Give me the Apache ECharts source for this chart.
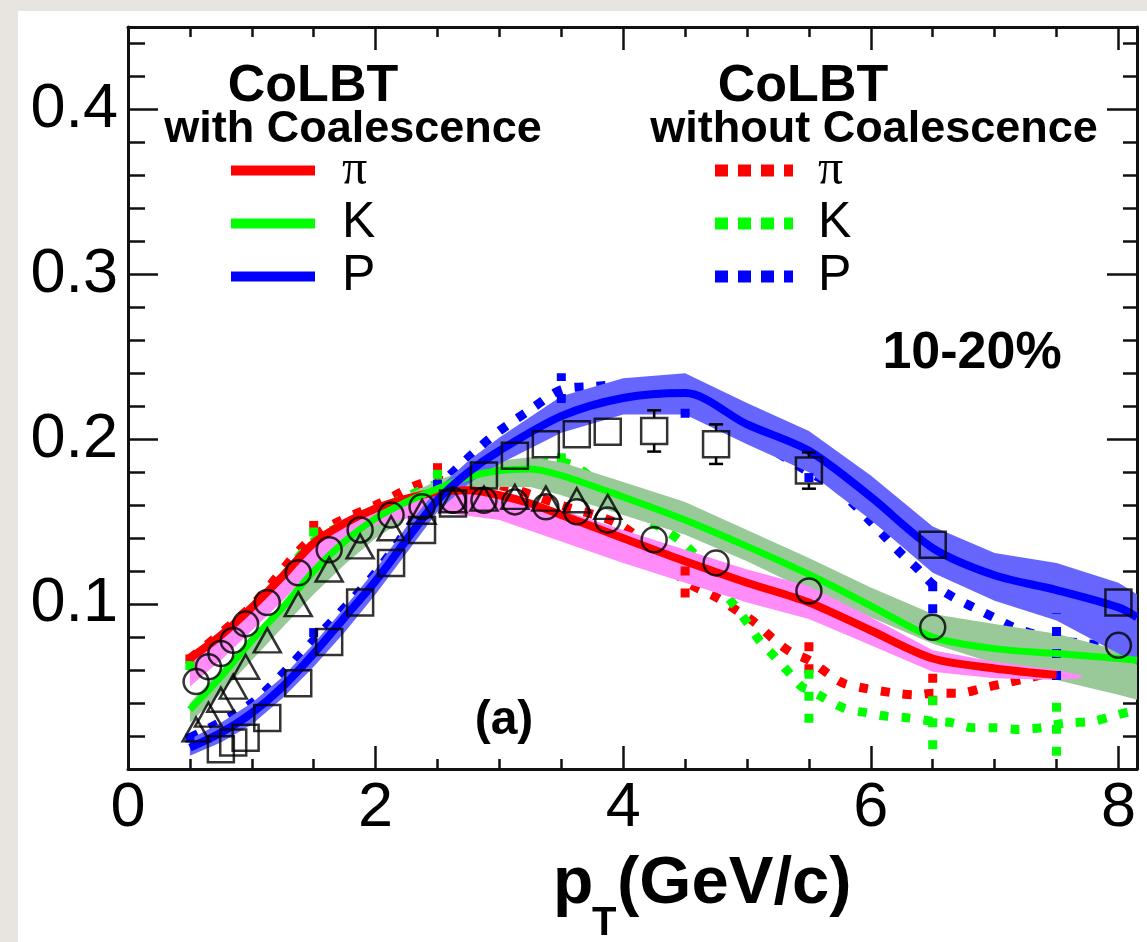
<!DOCTYPE html>
<html><head><meta charset="utf-8">
<script src="https://cdn.jsdelivr.net/npm/echarts/dist/echarts.min.js"></script>
<style>
html,body{margin:0;padding:0;background:#e8e5e1;width:1147px;height:942px;overflow:hidden}
#panel{position:absolute;left:18px;top:11px;width:1129px;height:931px;background:#fff}
#chart{position:absolute;left:0;top:0;width:1147px;height:942px}
</style></head><body><div id="panel"></div><div id="chart"></div>
<script>
// ---------------- data (v2 vs pT) ----------------
// experimental points
const piX = [0.55,0.65,0.75,0.85,0.95,1.125,1.375,1.625,1.875,2.125,2.375,2.625,2.875,3.125,3.375,3.625,3.875,4.25,4.75,5.5,6.5,8.0];
const piY = [0.053,0.062,0.070,0.078,0.088,0.101,0.119,0.133,0.145,0.154,0.159,0.163,0.163,0.162,0.159,0.156,0.151,0.139,0.125,0.108,0.086,0.075];
const kX  = [0.55,0.65,0.75,0.85,0.95,1.125,1.375,1.625,1.875,2.125,2.375,2.625,2.875,3.125,3.375,3.625,3.875];
const kY  = [0.024,0.033,0.042,0.050,0.062,0.078,0.100,0.121,0.135,0.146,0.156,0.163,0.164,0.165,0.164,0.163,0.159];
const pX  = [0.75,0.85,0.95,1.125,1.375,1.625,1.875,2.125,2.375,2.625,2.875,3.125,3.375,3.625,3.875,4.25,4.75,5.5,6.5,8.0];
const pY  = [0.012,0.016,0.019,0.031,0.052,0.077,0.101,0.125,0.145,0.161,0.178,0.190,0.197,0.203,0.2045,0.205,0.197,0.181,0.136,0.101];
const pErrX  = [4.25,4.75,5.5];
const pErrY  = [0.205,0.197,0.181];
const pErrLo = [0.1925,0.185,0.170];
const pErrHi = [0.2175,0.209,0.192];

// CoLBT with coalescence: central lines
const redX   = [0.5,0.75,1.0,1.25,1.5,1.75,2.0,2.25,2.5,2.75,3.0,3.25,3.5,4.0,4.5,5.0,5.5,6.0,6.5,7.0,7.5];
const redY   = [0.067,0.081,0.098,0.117,0.137,0.149,0.158,0.164,0.168,0.169,0.166,0.161,0.154,0.140,0.126,0.113,0.101,0.084,0.067,0.061,0.057];
const greenX = [0.5,0.75,1.0,1.25,1.5,1.75,2.0,2.25,2.5,2.75,3.0,3.25,3.5,4.0,4.5,5.0,5.5,6.0,6.5,7.0,7.5,8.0,8.15];
const greenY = [0.036,0.056,0.078,0.098,0.120,0.138,0.152,0.162,0.170,0.177,0.181,0.182,0.178,0.165,0.151,0.135,0.118,0.099,0.080,0.073,0.070,0.067,0.066];
const blueX  = [0.5,0.75,1.0,1.25,1.5,1.75,2.0,2.25,2.5,2.75,3.0,3.5,4.0,4.5,5.0,5.5,6.0,6.5,7.0,7.5,8.0,8.15];
const blueY  = [0.013,0.022,0.034,0.050,0.070,0.092,0.114,0.139,0.163,0.180,0.193,0.214,0.225,0.228,0.209,0.193,0.165,0.134,0.1175,0.1085,0.098,0.092];

// CoLBT with coalescence: uncertainty bands
const piBandX = [0.5,0.75,1.0,1.25,1.5,1.75,2.0,2.5,3.0,3.5,4.0,4.5,5.0,5.5,6.0,6.5,7.0,7.5,7.7];
const piLo    = [0.050,0.066,0.084,0.102,0.122,0.138,0.148,0.156,0.151,0.138,0.125,0.113,0.101,0.091,0.075,0.059,0.055,0.054,0.055];
const piHi    = [0.066,0.080,0.097,0.116,0.140,0.152,0.160,0.168,0.166,0.157,0.145,0.133,0.121,0.111,0.092,0.072,0.065,0.060,0.057];
const kBandX  = [0.5,0.75,1.0,1.25,1.5,1.75,2.0,2.25,2.5,2.75,3.0,3.25,3.5,4.0,4.5,5.0,5.5,6.0,6.5,7.0,7.5,8.0,8.15];
const kLo     = [0.028,0.046,0.066,0.086,0.106,0.124,0.140,0.152,0.161,0.167,0.171,0.171,0.166,0.154,0.142,0.126,0.108,0.092,0.076,0.064,0.054,0.045,0.042];
const kHi     = [0.040,0.060,0.080,0.100,0.122,0.140,0.155,0.166,0.175,0.182,0.187,0.189,0.186,0.174,0.162,0.145,0.128,0.110,0.094,0.088,0.082,0.072,0.070];
const pBandX  = [0.5,0.75,1.0,1.25,1.5,1.75,2.0,2.25,2.5,2.75,3.0,3.5,4.0,4.5,5.0,5.5,6.0,6.5,7.0,7.5,8.0,8.15];
const pLo     = [0.008,0.016,0.027,0.043,0.062,0.083,0.106,0.131,0.156,0.173,0.185,0.204,0.215,0.215,0.197,0.180,0.151,0.119,0.102,0.090,0.070,0.063];
const pHi     = [0.018,0.028,0.040,0.056,0.076,0.098,0.121,0.147,0.170,0.187,0.201,0.226,0.237,0.240,0.222,0.205,0.178,0.147,0.131,0.125,0.113,0.106];

// CoLBT without coalescence (dotted)
const redNcX   = [0.5,1.0,1.5,2.0,2.5,3.0,3.5,4.0,4.5,4.77,4.92,5.06,5.21,5.35,5.5,5.67,5.78,5.95,6.2,6.37,6.5,6.72,6.9,7.08,7.26,7.5,7.8,8.15];
const redNcY   = [0.067,0.099,0.141,0.160,0.175,0.172,0.160,0.147,0.114,0.1034,0.096,0.089,0.079,0.071,0.066,0.057,0.052,0.049,0.046,0.045,0.046,0.046,0.049,0.052,0.055,0.059,0.062,0.063];
const greenNcX = [0.5,1.0,1.5,2.0,2.5,3.0,3.5,4.0,4.5,4.89,5.0,5.1,5.2,5.32,5.44,5.5,5.6,5.78,5.97,6.13,6.3,6.5,6.66,6.82,7.0,7.2,7.38,7.5,7.6,7.8,7.95,8.15];
const greenNcY = [0.062,0.092,0.138,0.156,0.173,0.182,0.186,0.160,0.136,0.100,0.089,0.078,0.070,0.060,0.050,0.048,0.044,0.037,0.034,0.032,0.031,0.029,0.028,0.025,0.025,0.024,0.025,0.027,0.028,0.029,0.032,0.036];
const blueNcX  = [0.5,1.0,1.5,2.0,2.5,2.84,3.0,3.25,3.5,3.75,4.0,4.5,5.0,5.5,5.72,5.87,6.0,6.1,6.24,6.37,6.5,6.67,6.83,6.99,7.15,7.31,7.5,7.69,7.88,8.15];
const blueNcY  = [0.019,0.040,0.078,0.119,0.170,0.195,0.205,0.218,0.230,0.232,0.233,0.224,0.203,0.180,0.171,0.160,0.150,0.142,0.131,0.122,0.112,0.104,0.098,0.092,0.086,0.082,0.078,0.0765,0.075,0.074];
const redNcErrX    = [0.5,1.5,2.5,4.5,5.5,6.5,7.5];
const redNcErrLo   = [0.064,0.145,0.180,0.104,0.058,0.039,0.054];
const redNcErrHi   = [0.070,0.151,0.186,0.125,0.080,0.060,0.066];
const greenNcErrX  = [0.5,1.5,2.5,3.5,5.5,6.5,7.5];
const greenNcErrLo = [0.060,0.141,0.176,0.186,0.028,0.012,0.008];
const greenNcErrHi = [0.066,0.147,0.182,0.196,0.068,0.050,0.044];
const blueNcErrX   = [0.5,1.5,2.5,3.5,4.5,5.5,6.5,7.5];
const blueNcErrLo  = [0.016,0.080,0.170,0.222,0.213,0.174,0.0945,0.054];
const blueNcErrHi  = [0.024,0.088,0.179,0.240,0.230,0.186,0.1205,0.0945];

// axes
const xMin = 0, xMax = 8.15, yMin = 0, yMax = 0.45;
const xTickLabels = [0,2,4,6,8];
const yTickLabels = [0.1,0.2,0.3,0.4];

// ---------------- styling / build ----------------
const F = "'Liberation Sans', Arial, Helvetica, sans-serif";
const RED = '#ff0000', GREEN = '#00ff00', BLUE = '#0000ff';
const PINK = '#ff8cf8', GBAND = '#99c999', BBAND = '#6666ff';
const DOTS = [9, 13];
const pairs = (xs, ys) => xs.map((x, i) => [x, ys[i]]);

function band(xs, lo, hi, color, z) {
  return {
    type: 'custom', silent: true, clip: true, z: z,
    data: xs.map((x, i) => [x, lo[i], hi[i]]),
    renderItem: function (params, api) {
      if (params.dataIndex !== 0) return null;
      const pts = [];
      for (let i = 0; i < xs.length; i++) pts.push(api.coord([xs[i], hi[i]]));
      for (let i = xs.length - 1; i >= 0; i--) pts.push(api.coord([xs[i], lo[i]]));
      return { type: 'polygon', shape: { points: pts }, style: { fill: color } };
    }
  };
}
function line(name, xs, ys, color, width, dashed, z) {
  return {
    type: 'line', name: name, data: pairs(xs, ys), symbol: 'none', showSymbol: false,
    smooth: 0.3, silent: true, z: z,
    itemStyle: { color: color },
    lineStyle: { color: color, width: width, type: dashed ? DOTS : 'solid', cap: 'butt' }
  };
}
function dottedErr(xs, lo, hi, color, z) {
  return {
    type: 'custom', silent: true, clip: true, z: z,
    data: xs.map((x, i) => [x, lo[i], hi[i]]),
    renderItem: function (params, api) {
      const a = api.coord([api.value(0), api.value(1)]);
      const b = api.coord([api.value(0), api.value(2)]);
      return { type: 'line', shape: { x1: a[0], y1: a[1], x2: b[0], y2: b[1] },
               style: { stroke: color, lineWidth: 9, lineDash: DOTS } };
    }
  };
}
function dataErr(xs, ys, lo, hi, z) {
  return {
    type: 'custom', silent: true, z: z,
    data: xs.map((x, i) => [x, ys[i], lo[i], hi[i]]),
    renderItem: function (params, api) {
      const c = api.coord([api.value(0), api.value(1)]);
      const t = api.coord([api.value(0), api.value(3)]);
      const b = api.coord([api.value(0), api.value(2)]);
      const h = 13, w = 7;
      const st = { stroke: '#000', lineWidth: 2.5 };
      return { type: 'group', children: [
        { type: 'line', shape: { x1: c[0], y1: c[1] - h, x2: t[0], y2: t[1] }, style: st },
        { type: 'line', shape: { x1: t[0] - w, y1: t[1], x2: t[0] + w, y2: t[1] }, style: st },
        { type: 'line', shape: { x1: c[0], y1: c[1] + h, x2: b[0], y2: b[1] }, style: st },
        { type: 'line', shape: { x1: b[0] - w, y1: b[1], x2: b[0] + w, y2: b[1] }, style: st }
      ] };
    }
  };
}
function marks(xs, ys, symbol, size, z) {
  return {
    type: 'scatter', data: pairs(xs, ys), symbol: symbol, symbolSize: size, silent: true, z: z,
    itemStyle: { color: 'rgba(0,0,0,0)', borderColor: '#000', borderWidth: 2.5 }
  };
}

const tickStyle = { color: '#111', width: 2.5 };
function xAx(pos, interval, len, main) {
  return {
    type: 'value', position: pos, min: xMin, max: xMax, interval: interval,
    splitLine: { show: false },
    axisLine: { show: main, onZero: false, lineStyle: { color: '#111', width: 3 } },
    axisTick: { show: true, inside: true, length: len, lineStyle: tickStyle },
    axisLabel: (main && pos === 'bottom') ? {
      show: true, margin: 8, fontSize: 63, color: '#000', fontFamily: F,
      showMinLabel: true, showMaxLabel: true, hideOverlap: false,
      formatter: v => xTickLabels.some(t => Math.abs(t - v) < 1e-6) ? String(Math.round(v)) : ''
    } : { show: false }
  };
}
function yAx(pos, interval, len, main) {
  return {
    type: 'value', position: pos, min: yMin, max: yMax, interval: interval,
    splitLine: { show: false },
    axisLine: { show: main, onZero: false, lineStyle: { color: '#111', width: 3 } },
    axisTick: { show: true, inside: true, length: len, lineStyle: tickStyle },
    axisLabel: (main && pos === 'left') ? {
      show: true, margin: 10, fontSize: 63, color: '#000', fontFamily: F,
      showMinLabel: true, showMaxLabel: true, hideOverlap: false,
      formatter: v => yTickLabels.some(t => Math.abs(t - v) < 1e-6) ? v.toFixed(1) : ''
    } : { show: false }
  };
}

const legendText = (pad) => ({
  fontSize: 50, lineHeight: 53, color: '#000', fontFamily: F, padding: [0, 0, 0, pad],
  rich: { s: { fontFamily: "'Liberation Serif', 'DejaVu Serif', serif", fontSize: 50, lineHeight: 53, color: '#000' } }
});
const legendFmt = name => { const n = name.split('_')[0]; return n === 'π' ? '{s|π}' : n; };

const option = {
  animation: false,
  backgroundColor: 'transparent',
  grid: { left: 128, top: 27, width: 1009, height: 742, containLabel: false, outerBoundsMode: 'none' },
  xAxis: [ xAx('bottom', 2, 23, true), xAx('bottom', 0.5, 10, false), xAx('top', 2, 23, true), xAx('top', 0.5, 10, false) ],
  yAxis: [ yAx('left', 0.1, 30, true), yAx('left', 0.02, 17, false), yAx('right', 0.1, 30, true), yAx('right', 0.02, 14, false) ],
  legend: [
    { data: ['π', 'K', 'P'], left: 226, top: 144, orient: 'vertical', itemWidth: 84, itemHeight: 9, itemGap: 0,
      padding: 0, selectedMode: false, formatter: legendFmt, textStyle: legendText(22),
      itemStyle: { opacity: 0 }, lineStyle: { width: 10 } },
    { data: ['π_nc', 'K_nc', 'P_nc'], left: 709, top: 144, orient: 'vertical', itemWidth: 78, itemHeight: 9, itemGap: 0,
      padding: 0, selectedMode: false, formatter: legendFmt, textStyle: legendText(20),
      itemStyle: { opacity: 0 }, lineStyle: { width: 12, type: [13, 10], cap: 'butt' } }
  ],
  graphic: [
    { type: 'text', x: 313, y: 87, silent: true, style: { text: 'CoLBT', font: 'bold 52px ' + F, fill: '#000', align: 'center', verticalAlign: 'middle', textAlign: 'center', textVerticalAlign: 'middle' } },
    { type: 'text', x: 353, y: 130, silent: true, style: { text: 'with Coalescence', font: 'bold 45px ' + F, fill: '#000', align: 'center', verticalAlign: 'middle', textAlign: 'center', textVerticalAlign: 'middle' } },
    { type: 'text', x: 803, y: 87, silent: true, style: { text: 'CoLBT', font: 'bold 52px ' + F, fill: '#000', align: 'center', verticalAlign: 'middle', textAlign: 'center', textVerticalAlign: 'middle' } },
    { type: 'text', x: 874, y: 130, silent: true, style: { text: 'without Coalescence', font: 'bold 45px ' + F, fill: '#000', align: 'center', verticalAlign: 'middle', textAlign: 'center', textVerticalAlign: 'middle' } },
    { type: 'text', x: 972, y: 354, silent: true, style: { text: '10-20%', font: 'bold 52px ' + F, fill: '#000', align: 'center', verticalAlign: 'middle', textAlign: 'center', textVerticalAlign: 'middle' } },
    { type: 'text', x: 504, y: 721, silent: true, style: { text: '(a)', font: 'bold 48px ' + F, fill: '#000', align: 'center', verticalAlign: 'middle', textAlign: 'center', textVerticalAlign: 'middle' } },
    { type: 'text', x: 553, y: 885, silent: true, style: { text: 'p', font: 'bold 66px ' + F, fill: '#000', align: 'left', verticalAlign: 'middle', textAlign: 'left', textVerticalAlign: 'middle' } },
    { type: 'text', x: 592, y: 924, silent: true, style: { text: 'T', font: 'bold 40px ' + F, fill: '#000', align: 'left', verticalAlign: 'middle', textAlign: 'left', textVerticalAlign: 'middle' } },
    { type: 'text', x: 617, y: 885, silent: true, style: { text: '(GeV/c)', font: 'bold 67px ' + F, fill: '#000', align: 'left', verticalAlign: 'middle', textAlign: 'left', textVerticalAlign: 'middle' } }
  ],
  series: [
    line('π_nc', redNcX, redNcY, RED, 9, true, 2),
    line('K_nc', greenNcX, greenNcY, GREEN, 9, true, 2),
    line('P_nc', blueNcX, blueNcY, BLUE, 9, true, 2),
    band(kBandX, kLo, kHi, GBAND, 3),
    band(piBandX, piLo, piHi, PINK, 4),
    band(pBandX, pLo, pHi, BBAND, 5),
    dottedErr(redNcErrX, redNcErrLo, redNcErrHi, RED, 6),
    dottedErr(greenNcErrX, greenNcErrLo, greenNcErrHi, GREEN, 6),
    dottedErr(blueNcErrX, blueNcErrLo, blueNcErrHi, BLUE, 6),
    line('π', redX, redY, RED, 8, false, 7),
    line('K', greenX, greenY, GREEN, 7, false, 7),
    line('P', blueX, blueY, BLUE, 8, false, 7),
    marks(piX, piY, 'circle', 25, 8),
    marks(kX, kY, 'triangle', [27, 24], 8),
    marks(pX, pY, 'rect', 26, 8),
    dataErr(pErrX, pErrY, pErrLo, pErrHi, 9)
  ]
};

const chart = echarts.init(document.getElementById('chart'), null, { renderer: 'canvas', width: 1147, height: 942 });
chart.setOption(option);
</script></body></html>
